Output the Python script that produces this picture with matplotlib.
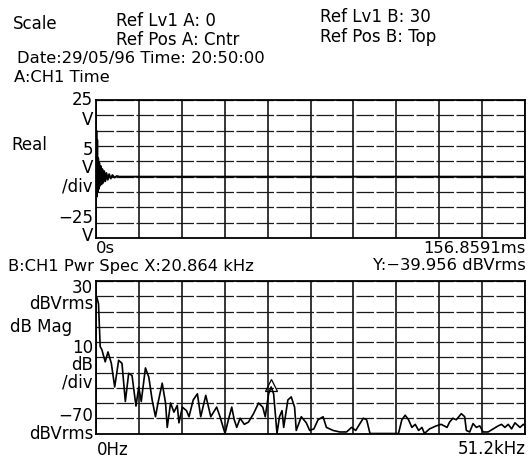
#!/usr/bin/env python3

import numpy as np
import matplotlib
matplotlib.use("Agg")
import matplotlib.pyplot as plt

# time trace (channel A), ms / V
t_ms = [0, 0.15, 0.3, 0.45, 0.6, 0.8, 1.0, 1.2, 1.4, 1.7, 2.0, 2.3, 2.6, 3.0,
        3.4, 3.8, 4.3, 4.8, 5.4, 6.0, 6.8, 7.6, 8.5, 10.0, 156.8591]
volts = [0, 15, -6.5, 12, -5, 6, -4, 4.5, -3, 3.5, -2.5, 2.5, -2, 1.8,
         -1.5, 1.2, -1, 0.8, -0.6, 0.5, -0.3, 0.2, 0, 0, 0]

# power spectrum (channel B), kHz / dBVrms
freq_khz = [0, 0.12, 0.3, 0.5, 0.7, 1.1, 1.43, 1.83, 2.23, 2.7, 3.1, 3.5, 3.9,
            4.3, 4.77, 5.1, 5.4, 5.9, 6.3, 6.7, 7.1, 7.4, 7.9, 8.3, 8.5, 8.9,
            9.3, 9.7, 9.9, 10.3, 10.8, 11.1, 11.6, 12.1, 12.5, 13.1, 13.7,
            14.4, 14.8, 15.4, 15.8, 16.2, 16.5, 16.8, 17.2, 17.7, 18.2, 18.8,
            19.4, 19.9, 20.2, 20.6, 20.9, 21.2, 21.6, 21.9, 22.2, 22.4, 22.9,
            23.3, 23.7, 23.9, 24.5, 25.1, 25.5, 26.0, 26.5, 27.1, 27.5, 28.3,
            29.1, 29.9, 30.5, 31.0, 31.5, 31.9, 32.3, 32.7, 36.1, 36.5, 36.9,
            37.3, 37.7, 38.1, 38.5, 38.9, 39.2, 39.8, 40.6, 41.2, 41.9, 42.2,
            42.6, 43.0, 43.6, 44.0, 44.2, 44.6, 45.0, 45.4, 45.8, 46.2, 46.8,
            47.4, 48.0, 48.4, 48.8, 49.2, 49.6, 50.0, 50.6, 51.0, 51.2]
dbv = [17, 19, 15, -13, -15, -23, -16.5, -24, -39.5, -22, -24, -49, -30.5,
       -32, -52, -39.5, -49, -27, -33, -48, -59, -50, -37, -50, -66, -50,
       -56, -51.6, -63, -52.7, -55, -59, -48, -44, -59, -45, -59,
       -52.7, -59, -70, -61, -52.7, -61, -66, -60, -64, -62.5, -57,
       -50, -52.7, -59, -44, -39.5, -44, -70, -59, -55, -66, -48,
       -46, -52.7, -68, -59, -63, -68, -67, -61, -59, -66, -68,
       -69, -69, -66, -68, -63.5, -60, -61, -70, -70, -61, -58,
       -61, -66, -64, -68, -66, -70, -67, -65, -64, -66, -62.5,
       -60, -61, -57, -59, -68, -69, -63.5, -66, -65, -69, -69,
       -67, -65, -64, -66, -64, -67, -63, -66, -64, -65]

marker_x = 20.864
marker_y = -39.956

W, H = 528, 459
fig = plt.figure(figsize=(W / 100, H / 100), dpi=100)
plt.rcParams["font.family"] = "DejaVu Sans"


def px(x, y):
    return x / W, 1 - y / H


def txt(x, y, s, ha="left", ls=1.2, size=12):
    fig.text(*px(x, y), s, ha=ha, va="center", fontsize=size, color="black",
             multialignment=ha, linespacing=ls)


def style(ax, xmax, ymin, ymax, ystep):
    ax.set_xlim(0, xmax)
    ax.set_ylim(ymin, ymax)
    ax.set_xticks(np.linspace(0, xmax, 11))
    ax.set_yticks(np.arange(ymin, ymax + ystep / 2, ystep))
    ax.xaxis.grid(True, color="black", lw=1.1)
    ax.yaxis.grid(True, color="#1a1a1a", lw=0.9, ls=(0, (14, 2)))
    ax.tick_params(length=0, labelbottom=False, labelleft=False)
    for sp in ax.spines.values():
        sp.set_color("black")
        sp.set_linewidth(1.3)
    ax.set_axisbelow(True)


# top panel: time record
x0, x1 = 96, 525
ax1 = fig.add_axes([x0 / W, 1 - 238 / H, (x1 - x0) / W, (238 - 100) / H])
style(ax1, 156.8591, -20, 25, 5)
ax1.plot(t_ms, volts, color="black", lw=1.4)

# bottom panel: power spectrum
ax2 = fig.add_axes([x0 / W, 1 - 433.5 / H, (x1 - x0) / W, (433.5 - 281) / H])
style(ax2, 51.2, -70, 30, 10)
ax2.plot(freq_khz, dbv, color="black", lw=1.2)
ax2.plot([marker_x], [marker_y + 1.5], marker="^", ms=8, mfc="none",
         mec="black", mew=0.9, ls="none")

# header
txt(13, 24, "Scale")
txt(116, 21, "Ref Lv1 A: 0")
txt(116, 40, "Ref Pos A: Cntr")
txt(320, 17, "Ref Lv1 B: 30")
txt(320, 37, "Ref Pos B: Top")
txt(17, 58, "Date:29/05/96 Time: 20:50:00", size=11.8)
txt(14, 77, "A:CH1 Time", size=11.8)

# top panel labels
txt(93, 110, "25\nV", ha="right", ls=1.15)
txt(11, 145, "Real")
txt(93, 168, "5\nV\n/div", ha="right", ls=1.03)
txt(93, 227, "\u221225\nV", ha="right", ls=0.97)
txt(96, 248, "0s", size=11.8)
txt(526, 248, "156.8591ms", ha="right", size=11.8)

# bottom panel labels
txt(8, 266, "B:CH1 Pwr Spec X:20.864 kHz", size=11.8)
txt(526, 266, "Y:\u221239.956 dBVrms", ha="right", size=11.8)
txt(93, 296, "30\ndBVrms", ha="right", ls=0.92)
txt(10, 327, "dB Mag")
txt(93, 365, "10\ndB\n/div", ha="right", ls=0.94)
txt(93, 425, "\u221270\ndBVrms", ha="right", ls=0.97)
txt(97, 450, "0Hz")
txt(526, 449, "51.2kHz", ha="right")

fig.savefig("out.png", dpi=100, facecolor="white")
